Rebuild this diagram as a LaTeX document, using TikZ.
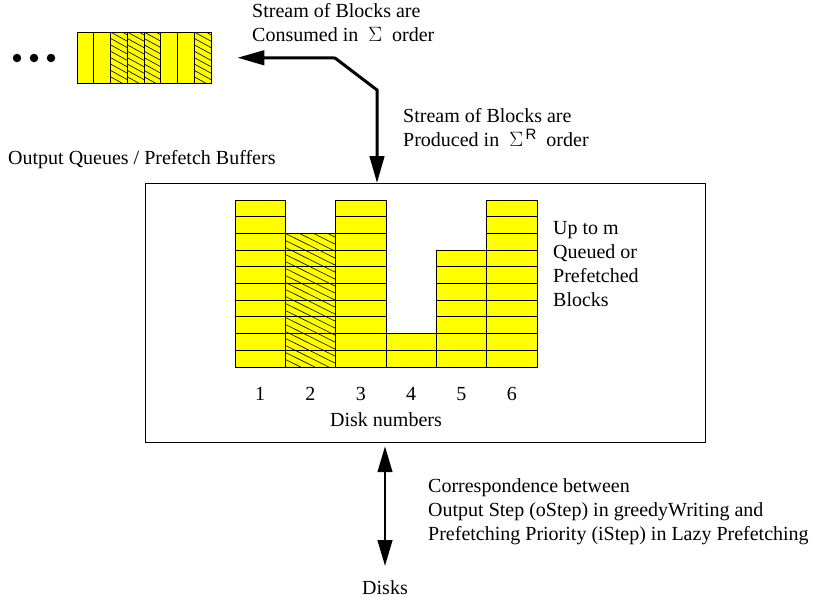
\documentclass[tikz,border=0pt]{standalone}
\usepackage{fontspec}
\setmainfont{Liberation Serif}
\newfontfamily\sansR{Liberation Sans}
\usetikzlibrary{arrows.meta}
\definecolor{blockyellow}{RGB}{255,255,0}
\begin{document}
\begin{tikzpicture}[x=1pt,y=-1pt,
  font=\fontsize{20}{24}\selectfont,
  lbl/.style={inner sep=0pt, anchor=west, align=left},
  num/.style={inner sep=0pt, anchor=center},
  hatchline/.style={draw=black, line width=0.6pt},
  bigarrow/.style={line width=3pt, line join=miter,
    {Triangle[length=27pt,width=14.5pt]}-{Triangle[length=27pt,width=14.5pt]}},
  dblarrow/.style={line width=2.8pt,
    {Triangle[length=26pt,width=14.5pt]}-{Triangle[length=26pt,width=14.5pt]}},
  dot/.style={circle, fill=black, inner sep=0pt, minimum size=8.5pt}]
\useasboundingbox (0,0) rectangle (814,603);

% ---------- top strip of blocks ----------
\node[dot] (d1) at (17,58) {};
\node[dot] (d2) at (34,58) {};
\node[dot] (d3) at (51,58) {};
\node[inner sep=0pt, minimum width=134pt, minimum height=51pt, anchor=north west] (strip) at (77,32) {};
\foreach \i/\h in {0/0,1/0,2/1,3/1,4/1,5/0,6/0,7/1}{
  \pgfmathsetmacro{\xa}{77+16.75*\i}
  \pgfmathsetmacro{\xb}{77+16.75*(\i+1)}
  \fill[blockyellow] (\xa,32) rectangle (\xb,83);
  \ifnum\h=1
    \begin{scope}
      \clip (\xa,32) rectangle (\xb,83);
      \foreach \k in {-4,...,9}{
        \draw[hatchline] (\xa,32+6.4*\k) -- ++(16.75,9.2);
      }
    \end{scope}
  \fi
  \draw[line width=0.9pt] (\xa,32) rectangle (\xb,83);
}

% ---------- main box ----------
\node[draw, line width=1.2pt, minimum width=560pt, minimum height=259pt,
      anchor=north west, inner sep=0pt] (box) at (145,183) {};

% stacks
\foreach \c/\n/\h in {1/10/0,2/8/1,3/10/0,4/2/0,5/7/0,6/10/0}{
  \pgfmathsetmacro{\xa}{235+50.33*(\c-1)}
  \pgfmathsetmacro{\xb}{235+50.33*\c}
  \pgfmathsetmacro{\ytop}{367-16.7*\n}
  \fill[blockyellow] (\xa,\ytop) rectangle (\xb,367);
  \ifnum\h=1
    \begin{scope}
      \clip (\xa,\ytop) rectangle (\xb,367);
      \foreach \k in {-6,...,24}{
        \draw[hatchline] (\xa,\ytop+7*\k) -- ++(50.33,25);
      }
    \end{scope}
  \fi
  \foreach \r in {1,...,\n}{
    \pgfmathsetmacro{\ya}{367-16.7*\r}
    \pgfmathsetmacro{\yb}{367-16.7*(\r-1)}
    \draw[line width=0.9pt] (\xa,\ya) rectangle (\xb,\yb);
  }
  \node[num] (n\c) at ({(\xa+\xb)/2},394) {\c};
}
\node[num] (disknum) at (386,420) {Disk numbers};
\node[lbl] (upto) at (553,264) {Up to m\\Queued or\\Prefetched\\Blocks};

% ---------- labels ----------
\node[lbl] (oq) at (8,160) {Output Queues / Prefetch Buffers};
\node[lbl] (cons) at (252,23) {Stream of Blocks are\\Consumed in \ \(\Sigma\) \ order};
\node[lbl] (prod) at (403,128) {Stream of Blocks are\\Produced in \ \(\Sigma\)\raisebox{7pt}{\sansR\fontsize{15}{15}\selectfont \,R}\ \ order};
\node[lbl] (corr) at (428,512) {Correspondence between\\Output Step (oStep) in greedyWriting and\\Prefetching Priority (iStep) in Lazy Prefetching};
\node[num] (disks) at (385,588) {Disks};

% ---------- connectors ----------
\coordinate (consumed) at ([xshift=26pt]strip.east);
\coordinate (bendA) at (335,58);
\coordinate (bendB) at (377,90);
\draw[bigarrow] (consumed) -- (bendA) -- (bendB) -- (bendB |- box.north);

\coordinate (dtop) at ([yshift=-3pt]box.south -| disks);
\coordinate (dbot) at ([yshift=22pt]disks.center);
\draw[dblarrow] (dtop) -- (dbot);
\end{tikzpicture}
\end{document}
